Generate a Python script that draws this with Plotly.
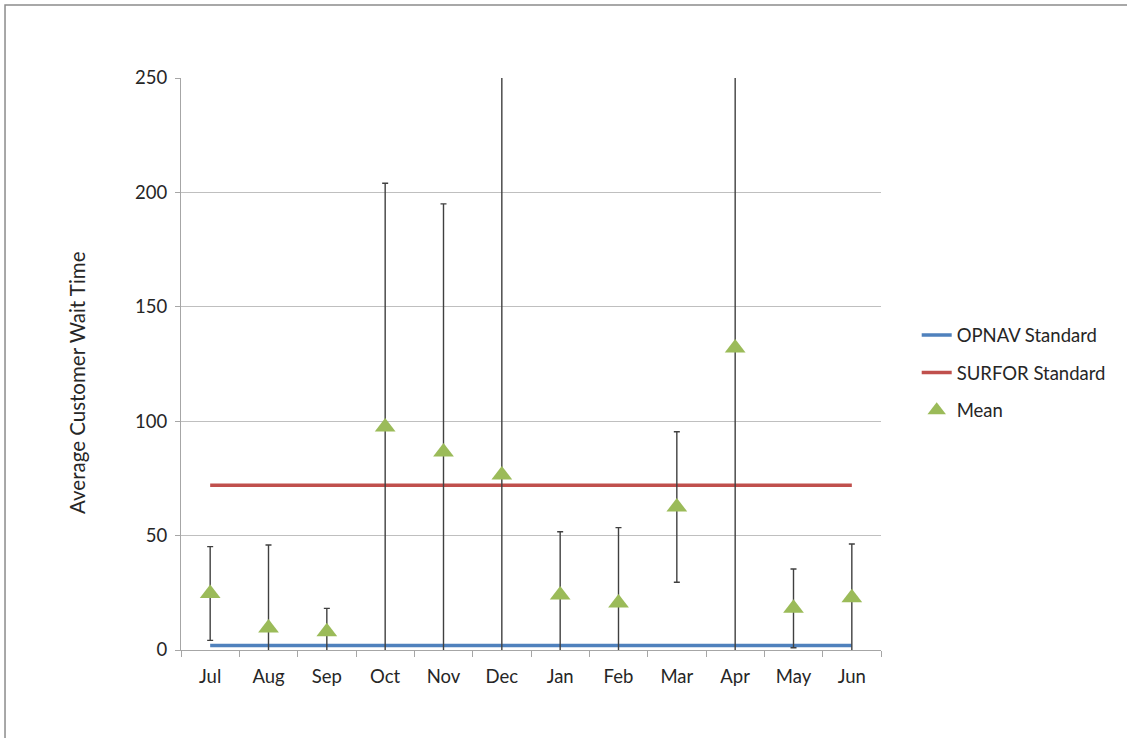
import plotly.graph_objects as go

months = ["Jul", "Aug", "Sep", "Oct", "Nov", "Dec", "Jan", "Feb", "Mar", "Apr", "May", "Jun"]
mean_wait = [24.7, 9.6, 8.0, 97.5, 86.5, 76.5, 24.0, 20.5, 62.5, 132.0, 18.2, 22.8]
error_wait = [20.5, 36.3, 10.2, 106.5, 108.5, 190.0, 27.7, 33.0, 32.9, 150.0, 17.2, 23.5]
opnav_standard = [2] * 12
surfor_standard = [72] * 12

FONT = "Lato"
TXT = "#262626"

fig = go.Figure()
fig.add_trace(go.Scatter(
    x=months, y=opnav_standard, mode="lines", name="OPNAV Standard",
    line=dict(color="#4F81BD", width=3.5), legendgroup="a"))
fig.add_trace(go.Scatter(
    x=months, y=surfor_standard, mode="lines", name="SURFOR Standard",
    line=dict(color="#C0504D", width=3.5), legendgroup="b"))
fig.add_trace(go.Scatter(
    x=months, y=mean_wait, mode="markers", name="Mean",
    marker=dict(symbol="triangle-up", size=18, color="#9BBB59"),
    error_y=dict(type="data", array=error_wait, symmetric=True,
                 color="#404040", thickness=1.4, width=3),
    legendgroup="c"))

fig.update_layout(
    width=1127, height=738,
    paper_bgcolor="white", plot_bgcolor="white",
    margin=dict(l=181, r=246, t=78, b=88),
    font=dict(family=FONT, size=18, color=TXT),
    showlegend=True,
    legend=dict(x=1.051, y=0.583, xanchor="left", yanchor="top",
                traceorder="grouped", tracegroupgap=10.5,
                font=dict(family=FONT, size=18.5, color=TXT),
                bgcolor="rgba(0,0,0,0)"),
    xaxis=dict(type="category", showgrid=False, showline=True,
               linecolor="#A6A6A6", linewidth=1.3,
               ticks="outside", tickson="boundaries", ticklen=6,
               tickcolor="#A6A6A6", tickfont=dict(size=18.5, color=TXT),
               ticklabelstandoff=10,
               range=[-0.5, 11.5]),
    yaxis=dict(range=[0, 250], dtick=50, showgrid=True, gridcolor="#BFBFBF",
               gridwidth=1.2, showline=True, linecolor="#A6A6A6", linewidth=1.3,
               ticks="outside", ticklen=5, tickcolor="#A6A6A6",
               tickfont=dict(size=18.5, color=TXT), zeroline=False,
               ticklabelstandoff=4),
    annotations=[dict(text="Average Customer Wait Time", xref="paper", yref="paper",
                      x=-0.1486, y=0.4685, xanchor="center", yanchor="middle",
                      textangle=-90, showarrow=False,
                      font=dict(family=FONT, size=20.5, color=TXT))],
    shapes=[dict(type="rect", xref="paper", yref="paper",
                 x0=-0.2514, x1=1.6, y0=-0.4, y1=1.1276,
                 line=dict(color="#8C8C8C", width=1.5), layer="below")],
)

fig.write_html("out.html", post_script="document.body.style.margin='0';",
               config={"displayModeBar": False})
